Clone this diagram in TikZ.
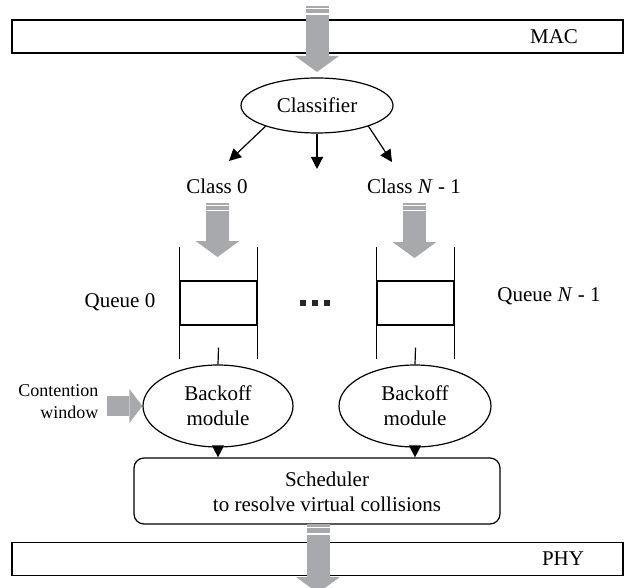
\documentclass[tikz,border=0pt]{standalone}
\usepackage{fontspec}
\setmainfont{Liberation Serif}
\usepackage{tikz}
\usetikzlibrary{arrows.meta,shapes.geometric}
\definecolor{cgray}{RGB}{168,169,173}

\begin{document}
\begin{tikzpicture}[x=0.5pt,y=-0.5pt,>={Triangle[length=6pt,width=6pt]},
  line width=0.6pt,font=\fontsize{10.5}{12.5}\selectfont,
  layer node/.style={draw,rectangle,minimum width=305.5pt,minimum height=16.5pt,inner sep=0pt},
  oval node/.style={draw,ellipse,inner sep=0pt,align=center},
  queue node/.style={draw,rectangle,minimum width=38.5pt,minimum height=22pt,inner sep=0pt},
  fat/.style={draw=cgray,line width=11.5pt,-{Triangle[length=8pt,width=22pt,line width=0pt]}},
  cut/.style={draw=white,line width=0.7pt}]
  \useasboundingbox (0,0) rectangle (624,587);

  \node[layer node] (mac) at (317.5,36.5) {};
  \node at (554,37) {MAC};
  \node[oval node,minimum width=76pt,minimum height=27.5pt] (cls) at (317,105.5) {Classifier};
  \node (c0) at (217,186) {Class 0};
  \node (cN) at (414,186) {Class \textit{N} - 1};
  \coordinate (a0) at (229,161);
  \coordinate (a1) at (317,169);
  \coordinate (a2) at (392,162);

  \node[queue node] (q0) at (218.5,303) {};
  \node[queue node] (qN) at (415.5,303) {};
  \node (l0) at (120,302) {Queue 0};
  \node (lN) at (549,296) {Queue \textit{N} - 1};
  \foreach \x in {303,315,327}
    \fill[black!85] (\x-3,300) rectangle (\x+3,306);

  \node[oval node,minimum width=75pt,minimum height=41pt] (b0) at (218,406) {Backoff\\module};
  \node[oval node,minimum width=76pt,minimum height=41pt] (bN) at (415,406) {Backoff\\module};
  \node[align=right,anchor=east,inner sep=0pt,font=\fontsize{9}{11}\selectfont] (cw) at (99,402) {Contention\\window};
  \coordinate (cwtail) at ([xshift=4pt]cw.east);

  \node[draw,rounded corners=5pt,minimum width=183pt,minimum height=33pt] (sch) at (317,491) {};
  \node[align=center] (schtext) at (327,491.5) {Scheduler\\to resolve virtual collisions};
  \node[layer node] (phy) at (317.5,559) {};
  \node at (563,559) {PHY};

  % classifier outputs
  \draw[->] (cls.-158) -- (a0);
  \draw[->] (cls.south) -- (a1);
  \draw[->] (cls.-22) -- (a2);

  % queue walls
  \draw ([yshift=16.5pt]q0.north west) -- ([yshift=-16.5pt]q0.south west);
  \draw ([yshift=16.5pt]q0.north east) -- ([yshift=-16.5pt]q0.south east);
  \draw ([yshift=16.5pt]qN.north west) -- ([yshift=-16.5pt]qN.south west);
  \draw ([yshift=16.5pt]qN.north east) -- ([yshift=-16.5pt]qN.south east);
  \draw ([yshift=-11pt]q0.south) -- (b0.north);
  \draw ([yshift=-11pt]qN.south) -- (bN.north);
  \draw[->] (b0.south) -- (b0.south |- sch.north);
  \draw[->] (bN.south) -- (bN.south |- sch.north);

  % gray flow arrows
  \coordinate (in0) at (317,6);    \coordinate (in1) at (317,72);
  \coordinate (qa0) at (217.5,203); \coordinate (qa1) at (217.5,257);
  \coordinate (qb0) at (414.5,203); \coordinate (qb1) at (414.5,258);
  \coordinate (out0) at (318,524); \coordinate (out1) at (318,593);
  \draw[fat] (in0) -- (in1);
  \draw[fat] (qa0) -- (qa1);
  \draw[fat] (qb0) -- (qb1);
  \draw[fat] (out0) -- (out1);
  \draw[cut] (305,8.3) -- (330,8.3);   \draw[cut] (305,14.2) -- (330,14.2);
  \draw[cut] (205,205.3) -- (230,205.3); \draw[cut] (205,210.5) -- (230,210.5);
  \draw[cut] (402,205.3) -- (427,205.3); \draw[cut] (402,210.5) -- (427,210.5);
  \draw[cut] (306,527.3) -- (331,527.3); \draw[cut] (306,534) -- (331,534);
  \draw[draw=cgray,line width=10pt,-{Triangle[length=6.5pt,width=17pt,line width=0pt]}]
    (cwtail |- b0.west) -- (b0.west);
\end{tikzpicture}
\end{document}
